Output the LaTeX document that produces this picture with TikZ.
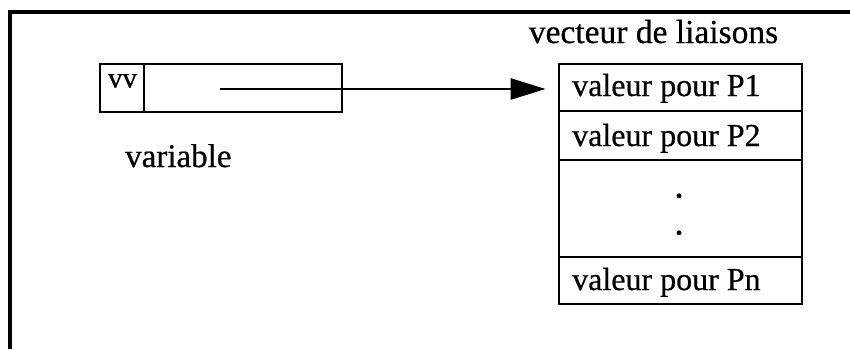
\documentclass[tikz,border=0pt]{standalone}
\usepackage{fontspec}
\setmainfont{Liberation Serif}[FakeBold=0.6]
\usetikzlibrary{arrows.meta}
\begin{document}
\begin{tikzpicture}[x=1pt,y=-1pt,
  cell/.style={draw,line width=2.8pt,rectangle,inner sep=0pt,minimum width=243pt},
  lbl/.style={inner sep=0pt,font=\fontsize{32}{36}\selectfont},
  frameline/.style={line width=3.2pt},
  pointer/.style={line width=2.6pt,-{Triangle[length=35pt,width=21pt]}}]
\useasboundingbox (0,0) rectangle (850,349);
% open frame: top and left edges
\draw[frameline] (850,12) -- (10,12) -- (10,349);
% the variable cell
\node[cell,minimum width=242pt,minimum height=48pt] (var) at (221,88) {};
\draw[line width=2.2pt] (144,64) -- (144,112);
\node[lbl,font=\fontsize{29}{32}\selectfont,anchor=base] (vv) at (122.5,87.5) {vv};
\node[lbl,font=\fontsize{33}{36}\selectfont,anchor=base west] (varname) at (125,167) {variable};
% the binding vector
\node[lbl,font=\fontsize{33.5}{38}\selectfont,anchor=base] (title) at (653.5,43) {vecteur de liaisons};
\node[cell,minimum height=47pt] (r1) at (680.5,87.5) {};
\node[cell,minimum height=49pt] (r2) at (680.5,135.5) {};
\node[cell,minimum height=97pt] (r3) at (680.5,208.5) {};
\node[cell,minimum height=47pt] (r4) at (680.5,280.5) {};
\node[lbl,anchor=base west] (t1) at (572,96) {valeur pour P1};
\node[lbl,anchor=base west] (t2) at (572,146) {valeur pour P2};
\node[lbl,anchor=base west] (tn) at (572,290) {valeur pour Pn};
\node[lbl,font=\fontsize{38}{40}\selectfont,anchor=base] (d1) at (679,197.5) {.};
\node[lbl,font=\fontsize{38}{40}\selectfont,anchor=base] (d2) at (679,234.5) {.};
% pointer from the variable to the vector
\coordinate (ptr) at (220,89);
\draw[pointer,shorten >=12pt] (ptr) -- (ptr -| r1.west);
\end{tikzpicture}
\end{document}
